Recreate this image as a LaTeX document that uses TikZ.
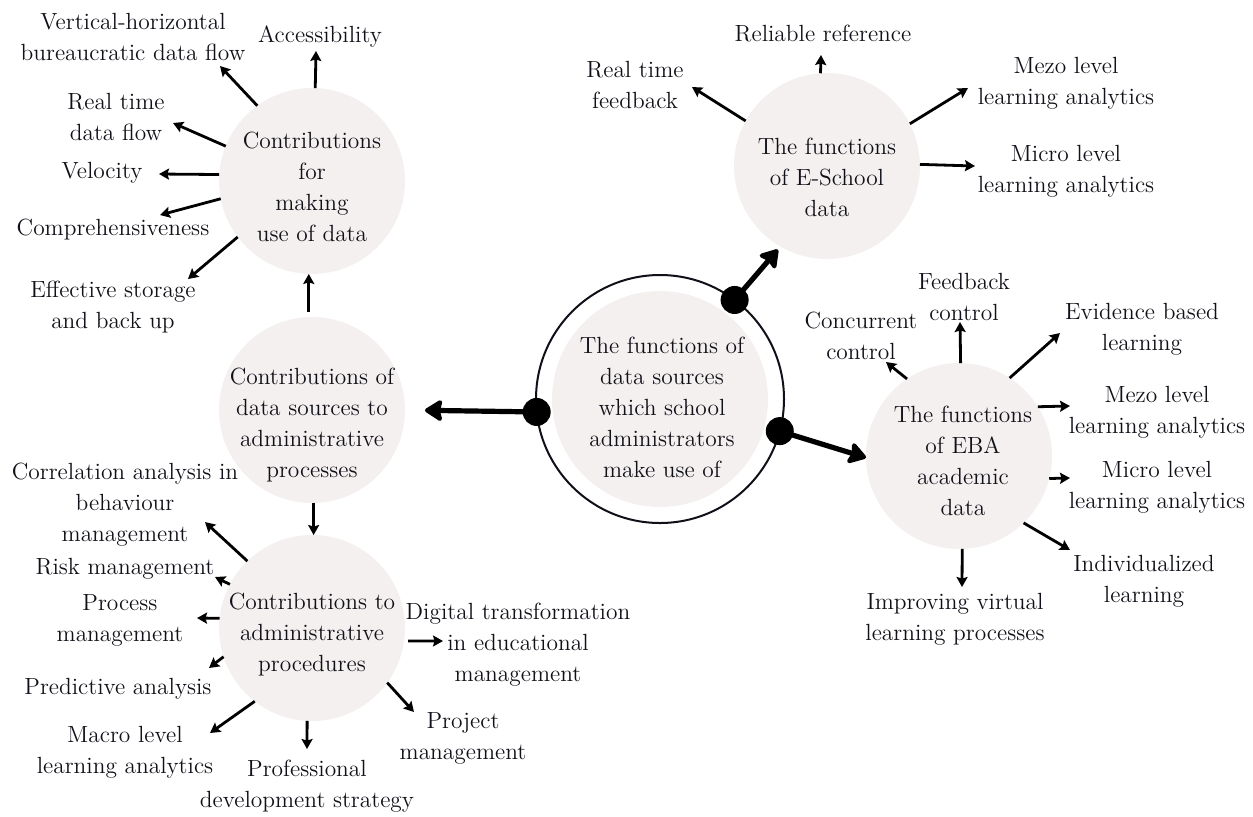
\documentclass[tikz,border=0pt]{standalone}
\usepackage{xcolor}
\definecolor{bubble}{HTML}{F4F0EF}
\definecolor{ink}{HTML}{101018}
\usepackage{tikz}
\usetikzlibrary{arrows.meta}

\begin{document}
\begin{tikzpicture}[x=0.5pt,y=-0.5pt,->,>={Stealth[length=5pt,width=5.5pt,inset=0.8pt]},line width=1.4pt]
    \tikzstyle{every node}=[font=\fontsize{11.7}{15.5}\selectfont,text=ink,align=center,inner sep=0pt]
    \tikzstyle{bub}=[circle,fill=bubble,minimum size=93pt,outer sep=0pt]
    \tikzstyle{ring}=[circle,draw=ink,line width=1pt,minimum size=124pt,outer sep=0pt]
    \tikzstyle{dot}=[circle,fill=black,minimum size=14pt]
    \tikzstyle{big}=[line width=2.6pt,-{Stealth[length=10pt,width=12.5pt,inset=1.6pt,round]}]

    \useasboundingbox (0,0) rectangle (1253,816);

    % hub with its three outlets
    \node[ring]                 (M)  at (660,399) {};
    \node[bub,minimum size=108pt] (Mi) at (660,399) {};
    \node                       (Mt) at (662,407) {The functions of\\data sources\\which school\\administrators\\make use of};
    \node[dot] (d1) at (M.186) {};
    \node[dot] (d2) at (M.53)  {};
    \node[dot] (d3) at (M.-15) {};

    % bubbles
    \node[bub] (A) at (312,181) {};
    \node      (At) at (312,187) {Contributions\\for\\making\\use of data};
    \node[bub] (B) at (312,410) {};
    \node      (Bt) at (312,425) {Contributions of\\data sources to\\administrative\\processes};
    \node[bub] (C) at (312,628) {};
    \node      (Ct) at (312,635) {Contributions to\\administrative\\procedures};
    \node[bub] (E) at (827,166) {};
    \node      (Et) at (827,177) {The functions\\of E-School\\data};
    \node[bub] (F) at (959,456) {};
    \node      (Ft) at (963,461) {The functions\\of EBA\\academic\\data};

    % labels round A
    \node (vh)   at (133,37)  {Vertical-horizontal\\bureaucratic data flow};
    \node (acc)  at (320,37)  {Accessibility};
    \node (rt)   at (116,117) {Real time\\data flow};
    \node (vel)  at (102,173) {Velocity};
    \node (comp) at (113,230) {Comprehensiveness};
    \node (eff)  at (113,307) {Effective storage\\and back up};

    % labels round C
    \node (corr)  at (125,505) {Correlation analysis in\\behaviour\\management};
    \node (risk)  at (125,569) {Risk management};
    \node (proc)  at (120,620) {Process\\management};
    \node (pred)  at (118,689) {Predictive analysis};
    \node (macro) at (125,752) {Macro level\\learning analytics};
    \node (prof)  at (307,786) {Professional\\development strategy};
    \node (proj)  at (463,738) {Project\\management};
    \node (dig)   at (518,645) {Digital transformation\\in educational\\management};

    % labels round E
    \node (rel)    at (823,34)   {Reliable reference};
    \node (rtf)    at (635,85)   {Real time\\feedback};
    \node (mezoE)  at (1066,83)  {Mezo level\\learning analytics};
    \node (microE) at (1066,171) {Micro level\\learning analytics};

    % labels round F
    \node (fb)     at (964,297)  {Feedback\\control};
    \node (conc)   at (861,336)  {Concurrent\\control};
    \node (evid)   at (1142,329) {Evidence based\\learning};
    \node (mezoF)  at (1157,412) {Mezo level\\learning analytics};
    \node (microF) at (1157,487) {Micro level\\learning analytics};
    \node (indiv)  at (1144,581) {Individualized\\learning};
    \node (impr)   at (955,619)  {Improving virtual\\learning processes};

    % arrow tips
    \coordinate (vh-e)     at (220,66);
    \coordinate (acc-e)    at (316,51);
    \coordinate (rt-e)     at (173,123);
    \coordinate (vel-e)    at (159,174);
    \coordinate (comp-e)   at (160,215);
    \coordinate (eff-e)    at (188,279);
    \coordinate (corr-e)   at (205,522);
    \coordinate (risk-e)   at (215,577);
    \coordinate (proc-e)   at (197,618);
    \coordinate (pred-e)   at (209,668);
    \coordinate (macro-e)  at (210,733);
    \coordinate (prof-e)   at (307,749);
    \coordinate (proj-e)   at (414,712);
    \coordinate (dig-e)    at (443,641);
    \coordinate (rel-e)    at (821,55);
    \coordinate (rtf-e)    at (692,87);
    \coordinate (mezoE-e)  at (968,88);
    \coordinate (microE-e) at (975,166);
    \coordinate (fb-e)     at (960,322);
    \coordinate (conc-e)   at (886,362);
    \coordinate (evid-e)   at (1060,333);
    \coordinate (mezoF-e)  at (1070,406);
    \coordinate (microF-e) at (1070,478);
    \coordinate (indiv-e)  at (1070,550);
    \coordinate (impr-e)   at (962,587);

    % thick outlets of the hub
    \path (d1.center) edge [big,shorten >=10pt] (B.0)
          (d2.center) edge [big,shorten >=2pt]  (E.240)
          (d3.center) edge [big]                (F.181);

    % chain of the left column
    \path (B.92)  edge [shorten <=2.5pt] (A.268)
          (B.271) edge                   (C.89);

    \path (A.126) edge (vh-e)
          (A.88)  edge (acc-e)
          (A.158) edge (rt-e)
          (A.176) edge (vel-e)
          (A.191) edge (comp-e)
          (A.217) edge (eff-e);

    \path (C.134) edge (corr-e)
          (C.152) edge (risk-e)
          (C.174) edge (proc-e)
          (C.198) edge (pred-e)
          (C.232) edge (macro-e)
          (C.267) edge (prof-e)
          (C.-36) edge (proj-e)
          (C.-8)  edge [shorten <=2pt] (dig-e);

    \path (E.94)  edge (rel-e)
          (E.151) edge (rtf-e)
          (E.27)  edge (mezoE-e)
          (E.1)   edge (microE-e);

    \path (F.89)  edge (fb-e)
          (F.124) edge (conc-e)
          (F.57)  edge (evid-e)
          (F.32)  edge (mezoF-e)
          (F.-14) edge (microF-e)
          (F.-46) edge (indiv-e)
          (F.-88) edge (impr-e);
\end{tikzpicture}
\end{document}
